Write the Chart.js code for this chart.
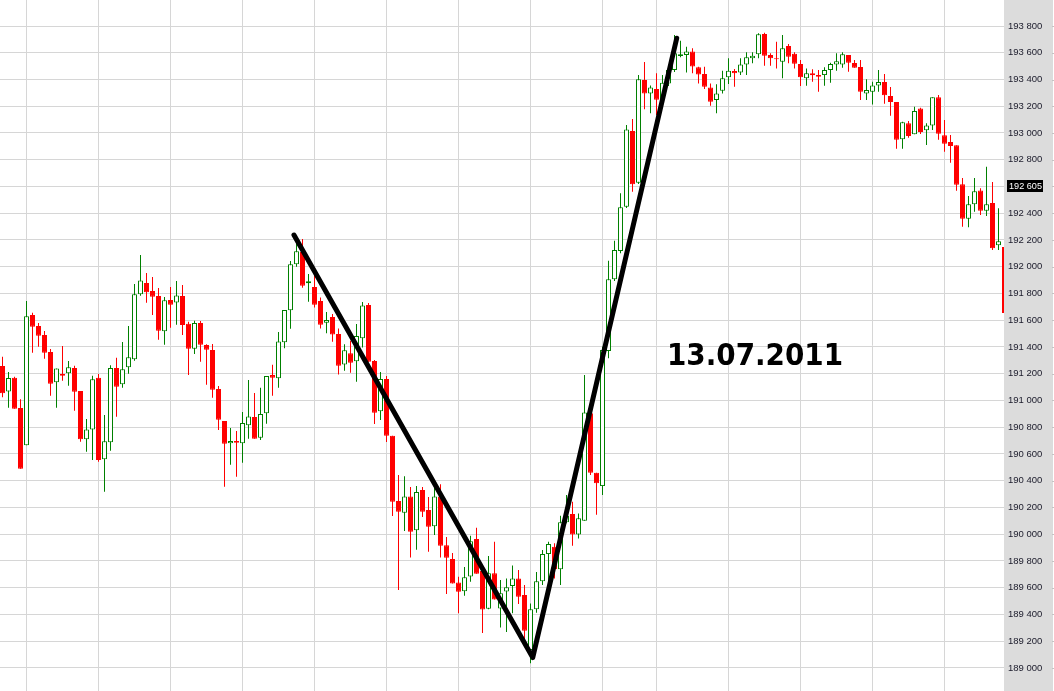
<!DOCTYPE html>
<html><head><meta charset="utf-8">
<script src="https://cdn.jsdelivr.net/npm/chart.js@4.4.1/dist/chart.umd.min.js"></script>
<style>html,body{margin:0;padding:0;background:#fff;overflow:hidden}canvas{display:block}</style>
</head><body>
<canvas id="c" width="1054" height="691"></canvas>
<script>
// ---- DATA ----
const openPrices = [191258,191068,191170,190944,190665,191639,191557,191489,191362,191136,191198,191203,191243,191071,190710,190784,191170,190560,190687,191243,191121,191248,191308,191794,191878,191818,191781,191517,191751,191732,191781,191574,191387,191579,191415,191377,191086,190846,190680,190697,190680,190814,190876,190721,190904,191190,191166,191435,191674,192018,192110,191876,191848,191744,191581,191624,191497,191270,191353,191293,191465,191714,191295,190919,191160,190736,190248,190161,190283,190029,190330,190181,190059,190283,189917,189815,189640,189573,189685,189964,189725,189443,189708,189445,189572,189613,189670,189545,189134,189439,189648,189852,189907,189738,190089,190151,189999,190101,190904,190460,190360,191370,191906,192117,192449,193015,192628,193396,193296,193329,193252,193371,193471,193575,193583,193610,193491,193441,193341,193246,193316,193416,193463,193453,193513,193558,193588,193740,193583,193558,193533,193650,193593,193516,193409,193446,193433,193433,193471,193513,193513,193583,193523,193493,193296,193308,193356,193381,193277,193231,192953,193072,192990,193184,193020,193057,193267,192983,192933,192908,192616,192359,192467,192571,192419,192476,192160,192147];
const highPrices = [191327,191213,191178,191009,191744,191656,191579,191519,191385,191240,191407,191295,191260,191071,190861,191185,191198,190891,191263,191320,191437,191557,191871,192087,191953,191923,191841,191773,191848,191893,191863,191589,191596,191594,191420,191422,191108,190846,190794,190772,190914,191153,191056,191095,191183,191267,191512,191676,192043,192192,192207,191945,191975,191771,191661,191646,191539,191420,191447,191572,191736,191729,191302,191213,191183,190736,190443,190433,190353,190360,190353,190278,190355,190373,189979,189859,189682,189755,189989,190049,189725,189837,189944,189658,189669,189767,189732,189620,189483,189717,189882,189944,189932,190138,190293,190243,190156,191190,190916,190460,191402,192045,192194,192549,193059,193104,193433,193530,193356,193446,193433,193508,193732,193690,193645,193633,193495,193495,193371,193364,193465,193558,193478,193558,193603,193603,193745,193750,193596,193682,193732,193665,193603,193545,193483,193476,193471,193491,193525,193596,193603,193583,193545,193545,193401,193383,193471,193441,193344,193231,193084,193089,193196,193189,193072,193267,193284,193097,192985,192908,192663,192529,192663,192586,192748,192633,192437,192147];
const lowPrices = [191024,190946,190938,190490,190665,191357,191402,191312,191036,190946,191148,191110,190923,190692,190617,190555,190542,190318,190624,190879,191095,191200,191297,191783,191731,191639,191454,191417,191544,191566,191489,191190,191347,191290,191118,191021,190779,190355,190520,190430,190535,190714,190714,190704,190826,191036,191095,191390,191536,192000,191843,191738,191696,191539,191502,191439,191194,191222,191207,191140,191397,191290,190824,190854,190689,190136,189583,190024,189827,189884,190129,189869,189994,189827,189553,189631,189409,189540,189645,189705,189261,189439,189513,189302,189269,189409,189478,189209,189035,189413,189620,189633,189670,189620,190082,189914,189969,190101,190443,190146,190293,191315,191893,192100,192439,192561,192618,193177,193147,193134,193231,193351,193456,193566,193453,193446,193371,193329,193204,193147,193296,193366,193346,193433,193433,193521,193558,193503,193503,193483,193409,193521,193483,193351,193353,193383,193308,193353,193376,193465,193488,193458,193488,193246,193246,193214,193308,193219,193129,192882,192882,192964,192990,192992,192910,193022,192950,192860,192778,192568,192299,192295,192411,192387,192379,192125,192125,191654];
const closePrices = [191054,191168,190938,190490,191629,191551,191484,191357,191125,191240,191185,191248,191065,190710,190784,191158,190555,190695,191243,191103,191233,191323,191794,191898,191809,191776,191522,191749,191716,191785,191564,191387,191579,191417,191379,191080,190856,190677,190697,190684,190831,190881,190714,190899,191183,191170,191442,191676,192018,192115,191858,191891,191716,191566,191601,191493,191260,191375,191282,191482,191711,191290,190908,191160,190736,190243,190168,190283,190019,190316,190168,190056,190283,189914,189824,189631,189570,189678,189947,189705,189437,189708,189513,189558,189603,189670,189533,189278,189439,189648,189852,189927,189738,190089,190138,189999,190119,190911,190460,190381,191377,191906,192125,192444,193027,192616,193401,193296,193341,193249,193376,193471,193596,193588,193609,193498,193438,193346,193234,193296,193409,193465,193446,193513,193566,193578,193738,193578,193558,193551,193633,193570,193518,193416,193446,193431,193421,193471,193516,193536,193588,193525,193488,193308,193321,193356,193381,193282,193231,192950,193080,192977,193164,193007,193057,193267,192994,192920,192903,192613,192359,192467,192564,192419,192467,192138,192190,191654];
const barIndex = openPrices.map((_, i) => i);          // bar number (time axis)
const sessionStartBars = [4,16,28,40,52,64,76,88,100,109,121,133,145,157];
const priceTicks = [189000,189200,189400,189600,189800,190000,190200,190400,190600,190800,191000,191200,191400,191600,191800,192000,192200,192400,192600,192800,193000,193200,193400,193600,193800];
const trendBars = [48.58, 88.37, 112.37];
const trendPrices = [192237, 189078, 193708];
const lastPrice = 192605;
const dateLabel = '13.07.2011';
const dateLabelBar = 110.75;
const dateLabelPrice = 191265;

// ---- STYLE ----
const UP = '#008000', DOWN = '#ff0000', GRID = '#d6d6d6', PANEL = '#dcdcdc';
const isUp = i => closePrices[i] >= openPrices[i];
const fmt = v => String(Math.round(v)).replace(/\B(?=(\d{3})+(?!\d))/g, ' ');

const overlay = {
  id: 'overlay',
  beforeDraw(chart) {
    const ctx = chart.ctx, y = chart.scales.y;
    ctx.save();
    ctx.fillStyle = '#ffffff';
    ctx.fillRect(0, 0, chart.width, chart.height);
    ctx.fillStyle = PANEL;
    ctx.fillRect(y.left, 0, 49, chart.height);
    ctx.restore();
  },
  afterDraw(chart) {
    const ctx = chart.ctx, y = chart.scales.y, x = chart.scales.x;
    ctx.save();
    ctx.fillStyle = '#c4c4c4';
    priceTicks.forEach(v => {
      const py = Math.round(y.getPixelForValue(v));
      ctx.fillRect(y.left + 48, py, 2, 1);
    });
    const ly = y.getPixelForValue(lastPrice);
    ctx.fillStyle = '#000';
    ctx.fillRect(y.left + 3, Math.round(ly) - 6, 36, 12);
    ctx.fillStyle = '#fff';
    ctx.font = '9.5px "Liberation Sans", Arial, sans-serif';
    ctx.textBaseline = 'middle';
    ctx.textAlign = 'left';
    ctx.fillText(fmt(lastPrice), y.left + 5, Math.round(ly) + 0.5, 33);
    ctx.fillStyle = '#000';
    ctx.font = 'bold 30px "DejaVu Sans", Verdana, sans-serif';
    ctx.textBaseline = 'alphabetic';
    ctx.fillText(dateLabel, x.getPixelForValue(dateLabelBar), y.getPixelForValue(dateLabelPrice), 176);
    ctx.restore();
  }
};

new Chart(document.getElementById('c'), {
  type: 'bar',
  data: {
    datasets: [
      {
        type: 'line', order: 0,
        data: trendBars.map((b, j) => ({ x: b, y: trendPrices[j] })),
        borderColor: '#000', borderWidth: 5, pointRadius: 0, fill: false, tension: 0,
        borderCapStyle: 'round', borderJoinStyle: 'round'
      },
      {
        order: 1,
        data: barIndex.map(i => ({ x: i, y: [openPrices[i], closePrices[i]] })),
        backgroundColor: barIndex.map(i => isUp(i) ? '#ffffff' : DOWN),
        borderColor: barIndex.map(i => isUp(i) ? UP : DOWN),
        borderWidth: 1, borderSkipped: false, inflateAmount: 0,
        barThickness: 5, grouped: false
      },
      {
        order: 2,
        data: barIndex.map(i => ({ x: i, y: [lowPrices[i], highPrices[i]] })),
        backgroundColor: barIndex.map(i => isUp(i) ? UP : DOWN),
        borderWidth: 0, borderSkipped: false, inflateAmount: 0,
        barThickness: 1, grouped: false
      }
    ]
  },
  options: {
    responsive: false, animation: false, devicePixelRatio: 1,
    layout: { padding: 0 },
    plugins: { legend: { display: false }, tooltip: { enabled: false } },
    scales: {
      x: {
        type: 'linear', min: -0.4167, max: 166.9167, offset: false, bounds: 'data',
        grid: {
          drawTicks: false, offset: false, lineWidth: 1,
          color: c => (c.tick && sessionStartBars.includes(c.tick.value)) ? GRID : 'rgba(0,0,0,0)'
        },
        border: { display: false },
        ticks: { display: false },
        afterBuildTicks: s => { s.ticks = sessionStartBars.map(v => ({ value: v })); },
        afterFit: s => { s.height = 0; s.paddingLeft = 0; s.paddingRight = 0; }
      },
      y: {
        type: 'linear', position: 'right', min: 188828, max: 193994.4, bounds: 'data',
        grid: { color: GRID, drawTicks: false, lineWidth: 1 },
        border: { display: false },
        ticks: {
          padding: 4, color: '#1a1a2a',
          font: { family: '"Liberation Sans", Arial, sans-serif', size: 9.5 },
          callback: v => Math.abs(v - lastPrice) < 100 ? '' : fmt(v)
        },
        afterBuildTicks: s => { s.ticks = priceTicks.map(v => ({ value: v })); },
        afterFit: s => { s.width = 50; s.paddingTop = 0; s.paddingBottom = 0; }
      }
    }
  },
  plugins: [overlay]
});
</script>
</body></html>
